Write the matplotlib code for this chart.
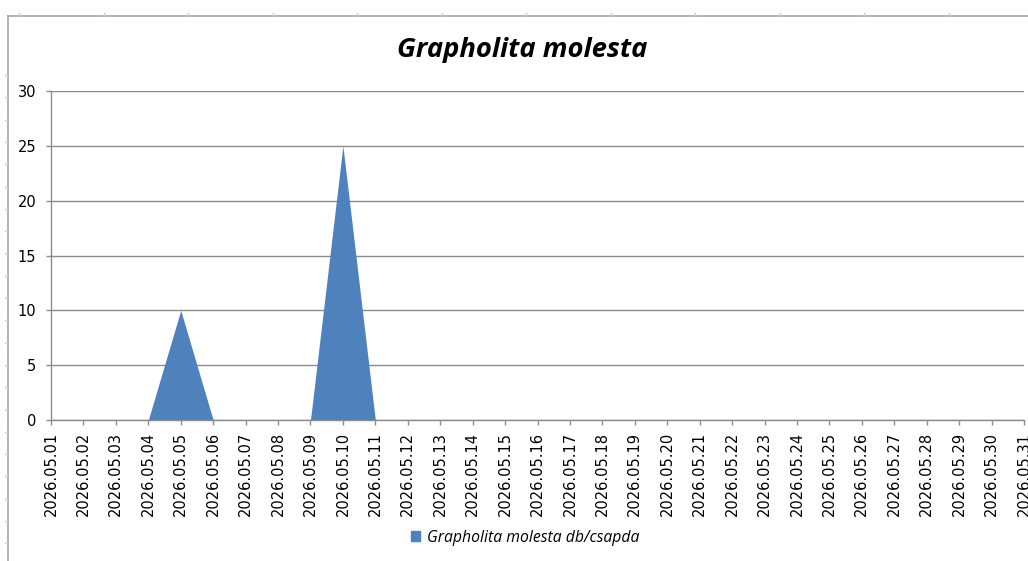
import matplotlib
matplotlib.use('Agg')
from matplotlib import pyplot as plt
from matplotlib.lines import Line2D
from matplotlib.patches import Patch

days = [ '2026.05.%02d' % d for d in range( 1 , 32 ) ]
catches = [ 0 , 0 , 0 , 0 , 10 , 0 , 0 , 0 , 0 , 25 , 0 , 0 , 0 , 0 , 0 , 0 ,
            0 , 0 , 0 , 0 , 0 , 0 , 0 , 0 , 0 , 0 , 0 , 0 , 0 , 0 , 0 ]
yticks = [ 0 , 5 , 10 , 15 , 20 , 25 , 30 ]

area_color = '#4F81BD'
grid_color = '#8c8c8c'
W , H = 1028 , 561

fig = plt.figure( figsize = ( W / 100 , H / 100 ) , dpi = 100 )
ax = fig.add_axes( [ 51 / W , 1 - 420 / H , 973 / W , 329 / H ] )

pos = list( range( len( days ) ) )
ax.fill_between( pos , catches , 0 , color = area_color , linewidth = 0 )

ax.set_xlim( 0 , len( days ) - 1 )
ax.set_ylim( 0 , 30 )
ax.set_xticks( pos )
ax.set_xticklabels( days , rotation = 90 , fontsize = 10.5 , family = 'DejaVu Sans' )
ax.set_yticks( yticks )
ax.set_yticklabels( [ str( v ) for v in yticks ] , fontsize = 10.5 , family = 'DejaVu Sans' )
# 5 px ticks, pads in px converted to points
ax.tick_params( axis = 'both' , length = 3.6 , width = 1 , color = grid_color , direction = 'out' )
ax.tick_params( axis = 'x' , pad = 5 )
ax.tick_params( axis = 'y' , pad = 7 )

ax.grid( axis = 'y' , color = grid_color , linewidth = 1 )
ax.set_axisbelow( True )
for s in [ 'top' , 'right' ]:
    ax.spines[ s ].set_visible( False )
for s in [ 'left' , 'bottom' ]:
    ax.spines[ s ].set_color( grid_color )
    ax.spines[ s ].set_linewidth( 1 )

fig.text( 522 / W , 1 - 50 / H , 'Grapholita molesta' , ha = 'center' , va = 'center' ,
          fontsize = 19.7 , fontweight = 'bold' , style = 'italic' , family = 'Open Sans' )

fig.legend( handles = [ Patch( color = area_color , label = 'Grapholita molesta db/csapda' ) ] ,
            loc = 'center' , bbox_to_anchor = ( 525 / W , 1 - 538 / H ) , frameon = False ,
            prop = { 'family' : 'Open Sans' , 'style' : 'italic' , 'size' : 11.3 } ,
            handlelength = 0.6 , handleheight = 0.6 , handletextpad = 0.4 )

# outer chart border with the sheet's row / column marks
border = '#a6a6a6'
fig.add_artist( Line2D( [ 8 / W , 8 / W ] , [ 0 , 1 - 16 / H ] , color = border , linewidth = 1.2 ) )
fig.add_artist( Line2D( [ 8 / W , 1 ] , [ 1 - 16 / H , 1 - 16 / H ] , color = border , linewidth = 1.2 ) )
y = 75.0
while y < H:
    fig.add_artist( Line2D( [ 5 / W , 7 / W ] , [ 1 - y / H ] * 2 , color = '#c8d0e0' , linewidth = 1 ) )
    y += 22.3
x = 19.0
while x < W:
    fig.add_artist( Line2D( [ x / W ] * 2 , [ 1 - 13 / H , 1 - 15 / H ] , color = '#c8d0e0' , linewidth = 1 ) )
    x += 84.5

fig.savefig( 'out.png' , dpi = 100 )
